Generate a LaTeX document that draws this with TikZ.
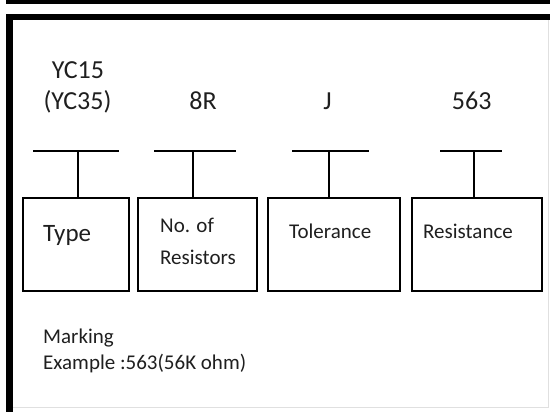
\documentclass[tikz,border=0pt]{standalone}
\usepackage{fontspec}
\setmainfont{Carlito}
\usepackage{tikz}
\usetikzlibrary{positioning}

\tikzset{
  part/.style={draw, line width=2pt, minimum height=93pt, inner sep=0pt},
  code/.style={font=\fontsize{26}{30}\selectfont, anchor=base, inner sep=0pt, text=black!88},
  desc/.style={font=\fontsize{21}{24}\selectfont, anchor=base west, inner sep=0pt, text=black!88},
  bar/.style={line width=2pt},
}

\begin{document}
\begin{tikzpicture}[x=1pt,y=-1pt]
    \useasboundingbox (0,0) rectangle (550,412);

    % Draw the band and the frame
    \fill (6,0) rectangle (550,4);
    \draw[line width=6.5pt] (9.5,412) -- (9.5,17) -- (550,17);
    \draw[black!12, line width=0.8pt] (13,407) -- (548,407) -- (548,20);

    % Codes on top
    \node[code] (yc15) at (78,79) {YC15};
    \node[code] (yc35) at (77.5,110) {(YC35)};
    \node[code] (nr) at (203,110) {8R};
    \node[code] (tol) at (327.5,110) {J};
    \node[code] (res) at (471.7,110) {563};

    % Boxes
    \node[part, minimum width=106pt] (type) at (76,244.5) {};
    \node[part, minimum width=119pt] (resistors) at (197.5,244.5) {};
    \node[part, minimum width=132pt] (tolerance) at (334,244.5) {};
    \node[part, minimum width=130pt] (resistance) at (477,244.5) {};

    % Labels in the boxes
    \node[desc, font=\fontsize{25}{30}\selectfont] (typetxt) at (43,241) {Type};
    \node[desc] (notxt) at (160,233) {No. of};
    \node[desc] (restxt) at (160,265) {Resistors};
    \node[desc] (toltxt) at (289,239) {Tolerance};
    \node[desc] (rsttxt) at (423,239) {Resistance};

    % Bars and stems
    \coordinate (b1l) at (33,151);  \coordinate (b1r) at (119,151); \coordinate (s1) at (78,151);
    \coordinate (b2l) at (154,151); \coordinate (b2r) at (236,151); \coordinate (s2) at (193,151);
    \coordinate (b3l) at (292,151); \coordinate (b3r) at (369,151); \coordinate (s3) at (329,151);
    \coordinate (b4l) at (440,151); \coordinate (b4r) at (502,151); \coordinate (s4) at (474,151);
    \draw[bar] (b1l) -- (b1r);
    \draw[bar] (b2l) -- (b2r);
    \draw[bar] (b3l) -- (b3r);
    \draw[bar] (b4l) -- (b4r);
    \draw[bar] (s1) -- (s1 |- type.north);
    \draw[bar] (s2) -- (s2 |- resistors.north);
    \draw[bar] (s3) -- (s3 |- tolerance.north);
    \draw[bar] (s4) -- (s4 |- resistance.north);

    % Marking example
    \node[desc] (mark) at (43,343) {Marking};
    \node[desc] (example) at (43,369) {Example :563(56K ohm)};
\end{tikzpicture}
\end{document}
